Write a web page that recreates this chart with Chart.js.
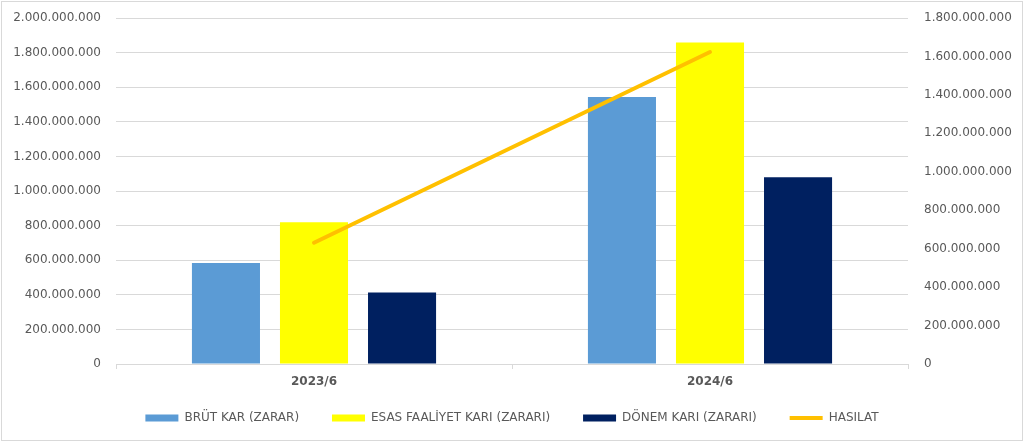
<!DOCTYPE html>
<html>
<head>
<meta charset="utf-8">
<script src="https://cdn.jsdelivr.net/npm/chart.js@4.4.1/dist/chart.umd.min.js"></script>
<style>
  html, body { margin: 0; padding: 0; background: #fff; }
  #wrap { width: 1024px; height: 442px; }
</style>
</head>
<body>
<div id="wrap"><canvas id="chart" width="1024" height="442"></canvas></div>
<script>
const labels = ['2023/6', '2024/6'];
const brutKar = [584000000, 1544000000];
const esasFaaliyet = [819000000, 1859000000];
const donemKar = [413000000, 1080000000];
const hasilat = [631000000, 1623000000];

const grey = '#595959';
const fmt = v => String(v).replace(/\B(?=(\d{3})+(?!\d))/g, '.');

const frame = {
    id: 'frame',
    beforeDraw(c) {
        const g = c.ctx;
        g.save();
        g.fillStyle = '#fff';
        g.fillRect(0, 0, c.width, c.height);
        g.strokeStyle = '#D9D9D9';
        g.lineWidth = 1;
        g.strokeRect(1.5, 1.5, c.width - 3, c.height - 3);
        g.restore();
    }
};

// wider gap between legend entries without a tall legend box
const legendLabels = c => Chart.defaults.plugins.legend.labels.generateLabels(c)
    .sort((a, b) => a.datasetIndex - b.datasetIndex)
    .map((it, i, all) => {
        if (i < all.length - 1) it.text = it.text + '      ';
        return it;
    });

const ctx = document.getElementById('chart').getContext('2d');
const chart = new Chart(ctx, {
    type: 'bar',
    data: {
        labels: labels,
        datasets: [{
            label: 'BRÜT KAR (ZARAR)',
            data: brutKar,
            backgroundColor: '#5B9BD5',
            pointStyle: 'rect',
            yAxisID: 'y',
            order: 1
        }, {
            label: 'ESAS FAALİYET KARI (ZARARI)',
            data: esasFaaliyet,
            backgroundColor: '#FFFF00',
            pointStyle: 'rect',
            yAxisID: 'y',
            order: 1
        }, {
            label: 'DÖNEM KARI (ZARARI)',
            data: donemKar,
            backgroundColor: '#002060',
            pointStyle: 'rect',
            yAxisID: 'y',
            order: 1
        }, {
            type: 'line',
            label: 'HASILAT',
            data: hasilat,
            borderColor: '#FFC000',
            backgroundColor: '#FFC000',
            borderWidth: 4,
            borderCapStyle: 'round',
            pointStyle: 'line',
            pointRadius: 0,
            yAxisID: 'y1',
            order: 0
        }]
    },
    options: {
        responsive: false,
        animation: false,
        categoryPercentage: 0.667,
        barPercentage: 0.773,
        layout: { padding: { top: 18, bottom: 8, left: 0, right: 0 } },
        font: { family: 'DejaVu Sans', size: 12 },
        scales: {
            x: {
                offset: true,
                grid: {
                    offset: true,
                    drawOnChartArea: false,
                    tickLength: 5,
                    color: '#D9D9D9'
                },
                border: { color: '#D9D9D9' },
                ticks: {
                    color: grey,
                    padding: 6,
                    font: { family: 'DejaVu Sans', size: 12, weight: 'bold' }
                },
                afterFit: s => { s.height = 38; }
            },
            y: {
                position: 'left',
                min: 0,
                max: 2000000000,
                ticks: {
                    stepSize: 200000000,
                    color: grey,
                    padding: 0,
                    font: { family: 'DejaVu Sans', size: 12 },
                    callback: v => fmt(v)
                },
                grid: { color: '#D9D9D9', tickLength: 15, tickColor: 'rgba(0,0,0,0)' },
                border: { display: false },
                afterFit: s => { s.width = 116; }
            },
            y1: {
                position: 'right',
                min: 0,
                max: 1800000000,
                ticks: {
                    stepSize: 200000000,
                    color: grey,
                    padding: 0,
                    font: { family: 'DejaVu Sans', size: 12 },
                    callback: v => fmt(v)
                },
                grid: { drawOnChartArea: false, tickLength: 16, tickColor: 'rgba(0,0,0,0)' },
                border: { display: false },
                afterFit: s => { s.width = 116; }
            }
        },
        plugins: {
            legend: {
                position: 'bottom',
                labels: {
                    color: grey,
                    usePointStyle: true,
                    pointStyleWidth: 33,
                    boxHeight: 7,
                    padding: 10,
                    font: { family: 'DejaVu Sans', size: 12 },
                    generateLabels: legendLabels
                }
            },
            tooltip: { enabled: false }
        }
    },
    plugins: [frame]
});
</script>
</body>
</html>
